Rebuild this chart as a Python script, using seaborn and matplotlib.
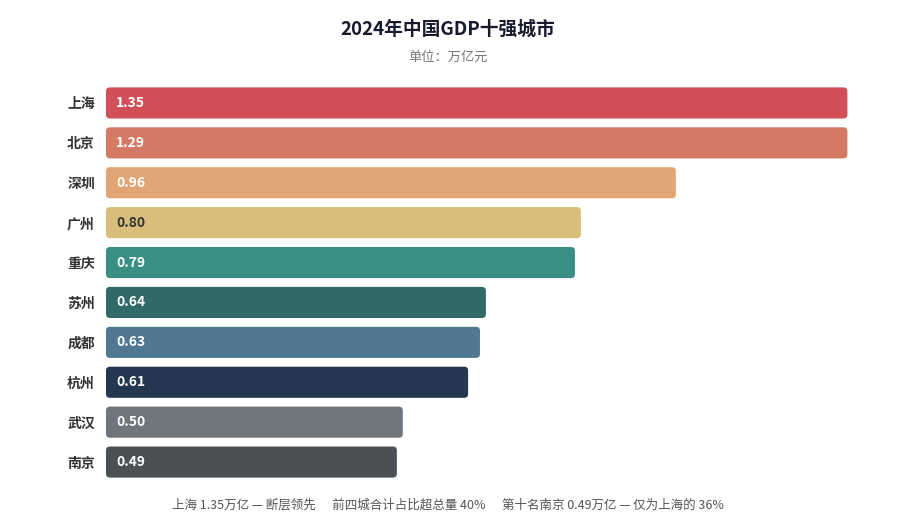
import matplotlib
matplotlib.use("Agg")
import matplotlib.pyplot as plt
import seaborn as sns
import pandas as pd
from matplotlib.patches import FancyBboxPatch

cities = ["上海", "北京", "深圳", "广州", "重庆", "苏州", "成都", "杭州", "武汉", "南京"]
values = [1.35, 1.29, 0.96, 0.80, 0.79, 0.64, 0.63, 0.61, 0.50, 0.49]
colors = ["#E63946", "#E76F51", "#F4A261", "#E9C46A", "#2A9D8F", "#287271",
          "#457B9D", "#1D3557", "#6C757D", "#495057"]
label_colors = ["white", "white", "white", "#333333", "white", "white",
                "white", "white", "white", "white"]
footer = "上海 1.35万亿 — 断层领先      前四城合计占比超总量 40%      第十名南京 0.49万亿 — 仅为上海的 36%"

sns.set_theme(style="white")
plt.rcParams['font.family'] = ['Noto Sans CJK SC', 'DejaVu Sans']

XMAX = 1.25
fig = plt.figure(figsize=(9.11, 5.27), dpi=100)
ax = fig.add_axes([106/911, 1-482/527, 742/911, 399/527])
df = pd.DataFrame({"city": cities, "value": values})
sns.barplot(data=df, x="value", y="city", hue="city", palette=colors,
            legend=False, ax=ax, width=0.78)
ax.set_xlim(0, XMAX)
ax.set_ylim(len(cities)-0.5, -0.5)

for p in list(ax.patches):
    x, y = p.get_x(), p.get_y()
    w, h = p.get_width(), p.get_height()
    fc = p.get_facecolor()
    p.remove()
    w = min(w, XMAX - 0.001)
    fb = FancyBboxPatch((x, y), w, h,
                        boxstyle="round,pad=0,rounding_size=0.0067",
                        mutation_aspect=14.84, facecolor=fc, edgecolor="none")
    ax.add_patch(fb)

for i, v in enumerate(values):
    ax.text(0.017, i, f"{v:.2f}", va="center", ha="left", fontsize=10,
            fontweight="bold", color=label_colors[i])

ax.set_xlabel("")
ax.set_ylabel("")
ax.set_xticks([])
ax.tick_params(axis="y", length=0, pad=8)
for lbl in ax.get_yticklabels():
    lbl.set_fontweight("bold")
    lbl.set_fontsize(10)
    lbl.set_color("#333333")
for s in ax.spines.values():
    s.set_visible(False)

fig.text(0.492, 1-29/527, "2024年中国GDP十强城市", ha="center", va="center",
         fontsize=13.5, fontweight="bold", color="#1a1a2e")
fig.text(0.492, 1-57/527, "单位：万亿元", ha="center", va="center",
         fontsize=9.5, color="#777777")
fig.text(0.492, 1-505/527, footer, ha="center", va="center",
         fontsize=9, color="#555555")

fig.savefig("out.png", dpi=100, facecolor="white")
